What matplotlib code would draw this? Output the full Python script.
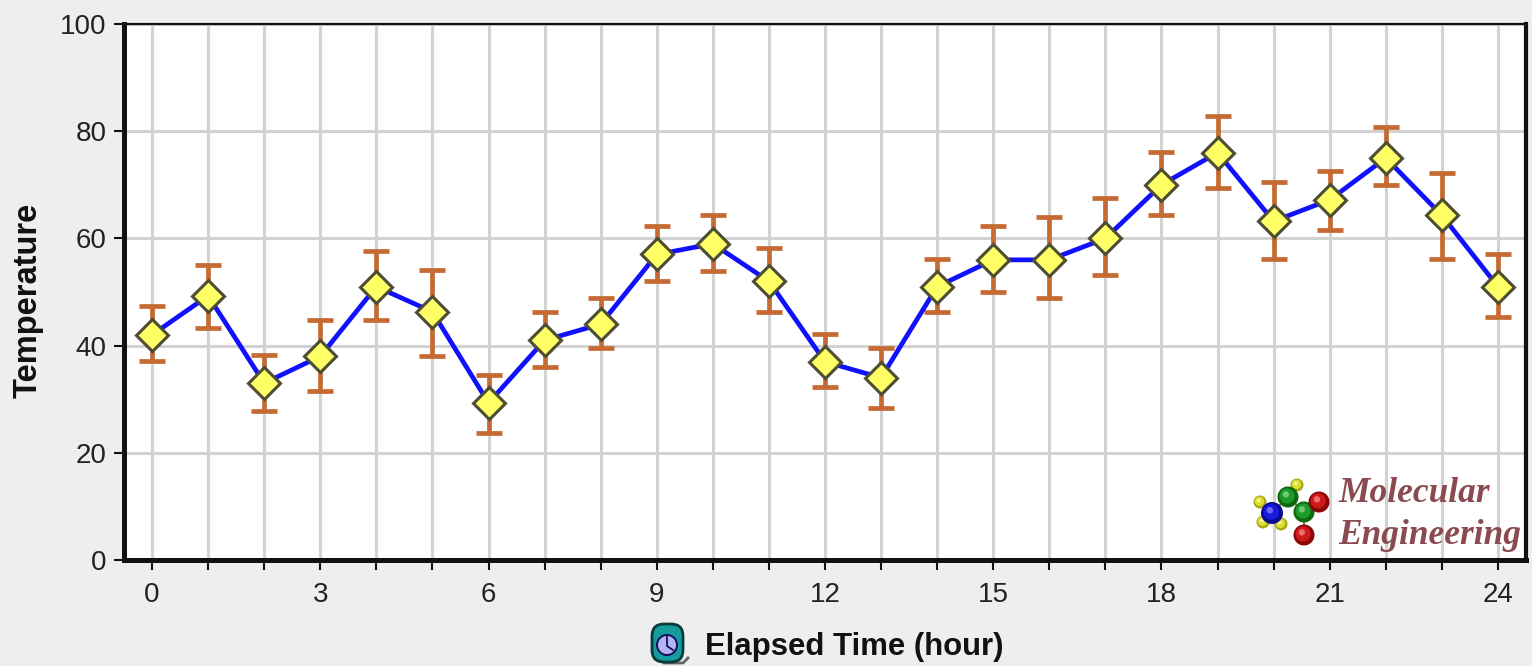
import matplotlib
matplotlib.use('Agg')
import matplotlib.pyplot as plt
from matplotlib.patches import Circle, FancyBboxPatch

hours = list(range(25))
temperature = [42, 49.3, 33, 38, 51, 46.3, 29.3, 41, 44, 57, 59, 52, 37,
               34, 51, 56, 56, 60, 70, 76, 63.2, 67.2, 75, 64.3, 51]
upper = [47.4, 55, 38.2, 44.8, 57.6, 54.1, 34.5, 46.3, 48.9, 62.3, 64.4, 58.2, 42.2,
         39.6, 56.2, 62.3, 64, 67.5, 76.1, 82.8, 70.5, 72.6, 80.8, 72.2, 57.1]
lower = [37.1, 43.3, 27.8, 31.5, 44.8, 38, 23.7, 36, 39.6, 52, 53.9, 46.3, 32.3,
         28.4, 46.3, 50, 48.9, 53.2, 64.4, 69.4, 56.2, 61.6, 70, 56.2, 45.3]
x_tick_labels = [0, 3, 6, 9, 12, 15, 18, 21, 24]
y_ticks = [0, 20, 40, 60, 80, 100]

W, H = 1532, 666
plt.rcParams['font.family'] = ['Liberation Sans', 'DejaVu Sans']

fig = plt.figure(figsize=(W / 100, H / 100), dpi=100, facecolor='#eeeeee')
ax = fig.add_axes([124 / W, 1 - 560 / H, 1402 / W, 536 / H])
ax.set_xlim(-0.5, 24.5)
ax.set_ylim(0, 100)

ax.grid(True, color='#d2d2d2', linewidth=2.2)
ax.set_axisbelow(True)
ax.set_xticks(hours)
ax.set_xticklabels([str(h) if h in x_tick_labels else '' for h in hours])
ax.set_yticks(y_ticks)
ax.tick_params(length=7.5, width=1.5, labelsize=20, color='#111111', labelcolor='#222222')
ax.tick_params(axis='x', pad=8)
ax.tick_params(axis='y', pad=5)

for side, lw in [('left', 3.6), ('bottom', 3.6), ('top', 1.6), ('right', 3)]:
    ax.spines[side].set_linewidth(lw)
    ax.spines[side].set_color('#111111')

err = [[t - l for t, l in zip(temperature, lower)],
       [u - t for t, u in zip(temperature, upper)]]
ax.errorbar(hours, temperature, yerr=err, fmt='none', ecolor='#c66a33',
            elinewidth=3.4, capsize=9.7, capthick=3.4, zorder=3)
ax.plot(hours, temperature, color='#1010ff', linewidth=3.4, zorder=4)
ax.plot(hours, temperature, linestyle='none', marker='D', markersize=16.5,
        markerfacecolor='#ffff66', markeredgecolor='#4d4d33', markeredgewidth=2.2, zorder=5)

ax.set_ylabel('Temperature', fontsize=23.5, fontweight='bold', color='#111111', va='center')
ax.yaxis.set_label_coords(28 / W, 1 - 300 / H, transform=fig.transFigure)
fig.text(705 / W, 1 - 647 / H, 'Elapsed Time (hour)', fontsize=22.4, fontweight='bold',
         color='#111111', va='center', ha='left')

# overlay in pixel coordinates for the logo and the clock icon
deco = fig.add_axes([0, 0, 1, 1], facecolor='none')
deco.set_xlim(0, W)
deco.set_ylim(H, 0)
deco.axis('off')


def ball(x, y, r, dark, mid, light):
    deco.add_patch(Circle((x, y), r, color=dark, lw=0, zorder=2))
    deco.add_patch(Circle((x - r * 0.08, y - r * 0.1), r * 0.72, color=mid, lw=0, zorder=2))
    deco.add_patch(Circle((x - r * 0.2, y - r * 0.25), r * 0.3, color=light, lw=0, zorder=2))


deco.plot([1272, 1288, 1304, 1319], [513, 497, 512, 502], color='#a08040', lw=1.5, zorder=1)
deco.plot([1304, 1304], [512, 535], color='#a08040', lw=1.5, zorder=1)
for bx, by in [(1260, 502), (1263, 522), (1281, 524), (1297, 485)]:
    ball(bx, by, 6.5, '#a8a818', '#dede30', '#f4f4a0')
ball(1288, 497, 10.5, '#0c6a0c', '#1f9a2a', '#70c870')
ball(1304, 512, 10.5, '#0c6a0c', '#1f9a2a', '#70c870')
ball(1272, 513, 11, '#0a0a90', '#1818e0', '#6a6af0')
ball(1319, 502, 10.5, '#8a0808', '#d01818', '#e87070')
ball(1304, 535, 10.5, '#8a0808', '#d01818', '#e87070')

logo_font = ['Liberation Serif', 'DejaVu Serif']
deco.text(1338, 494, 'Molecular', fontsize=25.5, family=logo_font, style='italic',
          fontweight='bold', color='#8a4a50', va='center', ha='left')
deco.text(1338, 536, 'Engineering', fontsize=25.5, family=logo_font, style='italic',
          fontweight='bold', color='#8a4a50', va='center', ha='left')

deco.plot([664, 683, 688], [663, 663, 658], color='#666666', lw=2, zorder=1)
deco.add_patch(FancyBboxPatch((654, 626), 27, 34, boxstyle='round,pad=2,rounding_size=12',
                              facecolor='#159c9c', edgecolor='#0a3a3a', linewidth=2, zorder=2))
deco.add_patch(Circle((667, 645), 10, facecolor='#b4b4f4', edgecolor='#10105a', linewidth=1.4, zorder=3))
deco.plot([667, 667, 673], [637, 646, 650], color='#10105a', lw=1.3, zorder=4)

fig.savefig('out.png', dpi=100, facecolor=fig.get_facecolor())
